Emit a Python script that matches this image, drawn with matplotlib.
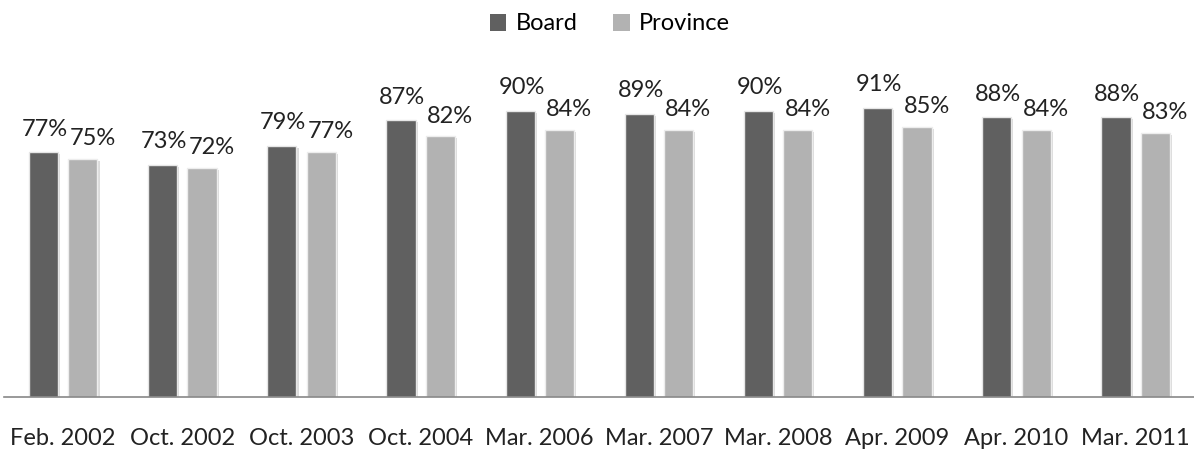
import matplotlib
matplotlib.use("Agg")
import matplotlib.pyplot as plt
import matplotlib.patheffects as pe
import numpy as np

categories = ["Feb. 2002", "Oct. 2002", "Oct. 2003", "Oct. 2004", "Mar. 2006",
              "Mar. 2007", "Mar. 2008", "Apr. 2009", "Apr. 2010", "Mar. 2011"]
board = [77, 73, 79, 87, 90, 89, 90, 91, 88, 88]
province = [75, 72, 77, 82, 84, 84, 84, 85, 84, 83]

plt.rcParams['font.family'] = ['Lato', 'DejaVu Sans']

fig = plt.figure(figsize=(11.94, 4.5), dpi=100)
ax = fig.add_axes([0.003, 53/450, 0.998, 318/450])

x = np.arange(len(categories))
w = 0.245
off = 0.165
shadow = [pe.SimplePatchShadow(offset=(1.5, -1.5), shadow_rgbFace='#999999', alpha=0.35), pe.Normal()]
b1 = ax.bar(x - off, board, w, color='#606060', edgecolor='#e6e6e6', linewidth=1.0, label='Board')
b2 = ax.bar(x + off, province, w, color='#b2b2b2', edgecolor='#ededed', linewidth=1.0, label='Province')
for r in list(b1) + list(b2):
    r.set_path_effects(shadow)

for xi, v in zip(x, board):
    ax.annotate(f"{v}%", (xi - off, v), xytext=(1, 9), textcoords='offset points',
                ha='center', va='bottom', fontsize=17, color='#222222', annotation_clip=False)
for xi, v in zip(x, province):
    ax.annotate(f"{v}%", (xi + off, v), xytext=(7, 7), textcoords='offset points',
                ha='center', va='bottom', fontsize=17, color='#222222', annotation_clip=False)

ax.set_xlim(-0.5, len(categories) - 0.5)
ax.set_ylim(0, 100)
ax.set_yticks([])
ax.set_xticks(x)
ax.set_xticklabels(categories, fontsize=17, color='#222222')
ax.tick_params(axis='x', length=0, pad=22)
for s in ['top', 'right', 'left']:
    ax.spines[s].set_visible(False)
ax.spines['bottom'].set_color('#888888')
ax.spines['bottom'].set_linewidth(1.2)

leg = fig.legend(handles=[b1, b2], labels=['Board', 'Province'], loc='center',
                 bbox_to_anchor=(610/1194, 1 - 24/450), ncol=2, frameon=False,
                 fontsize=17, handlelength=0.7, handleheight=0.7, handletextpad=0.4,
                 columnspacing=1.5)
for h in leg.legend_handles:
    h.set_path_effects([])
    h.set_edgecolor('none')

fig.savefig("out.png", dpi=100)
